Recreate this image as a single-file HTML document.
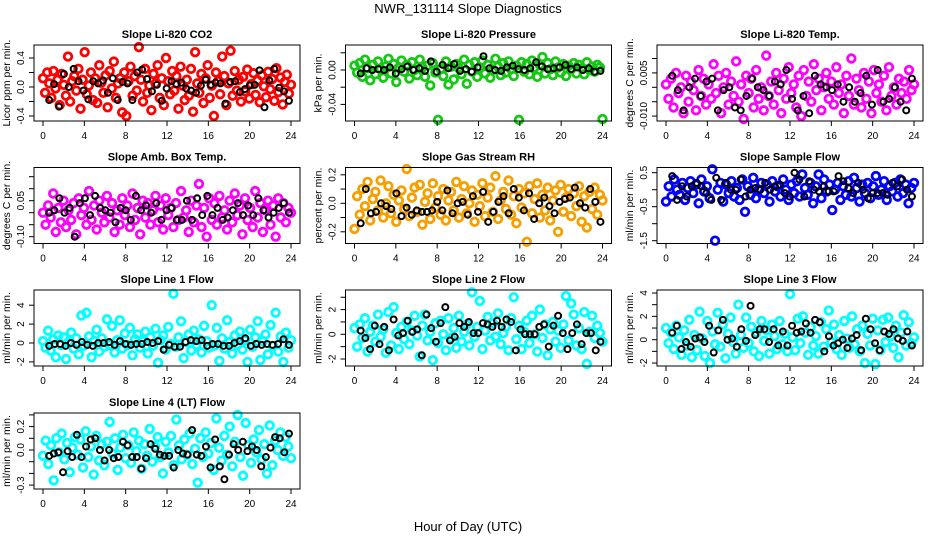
<!DOCTYPE html>
<html><head><meta charset="utf-8"><style>
body{margin:0;background:#fff;}
svg{display:block;font-family:"Liberation Sans",sans-serif;}
</style></head><body>
<svg id="chart" width="936" height="540" viewBox="0 0 936 540" xmlns="http://www.w3.org/2000/svg">
<rect width="936" height="540" fill="#fff"/>
<text x="468" y="13" text-anchor="middle" font-size="13">NWR_131114  Slope Diagnostics</text>
<text x="468" y="531" text-anchor="middle" font-size="13">Hour of Day (UTC)</text>
</svg>
<script>
const xTicks=[0,4,8,12,16,20,24];
const co2Vals=[0.12,-0.08,0.2,0.05,-0.15,0.22,-0.02,0.1,-0.25,0.18,0.03,-0.12,0.42,-0.2,0.08,0.15,-0.05,0.25,-0.3,0.1,0.48,-0.1,0.02,0.2,-0.18,0.12,-0.22,0.3,0.06,-0.08,0.16,-0.28,0.22,-0.02,0.35,-0.15,0.05,0.12,-0.35,0.2,-0.4,0.08,0.28,-0.12,0.15,-0.05,0.55,0.1,-0.2,0.25,-0.08,0.02,-0.32,0.18,0.05,0.3,-0.15,0.12,-0.25,0.4,0.08,-0.1,0.22,-0.05,0.15,-0.3,0.28,0.02,-0.18,0.1,-0.12,0.25,-0.34,0.48,0.05,-0.08,0.18,-0.22,0.12,0.3,-0.15,0.02,-0.4,0.2,0.08,-0.1,0.42,0.15,-0.25,0.05,0.5,-0.12,0.22,-0.05,0.1,-0.2,0.14,-0.06,0.24,-0.16,0.04,0.19,-0.11,0.09,-0.21,0.16,0.01,-0.14,0.21,-0.03,0.11,-0.19,0.26,-0.07,0.13,-0.24,0.07,0.17,-0.09,0.03];
const co2Black=[-0.18,0.04,-0.27,0.18,0.0,0.25,0.08,-0.05,-0.17,0.08,0.05,0.09,-0.08,0.12,-0.18,0.07,0.05,-0.18,0.2,0.24,0.11,-0.06,0.03,-0.19,-0.02,0.08,0.04,0.06,-0.02,-0.05,-0.08,0.02,0.1,0.03,0.06,0.05,-0.23,0.07,0.08,-0.07,-0.03,0.02,0.03,0.23,-0.28,0.09,0.25,-0.01,-0.06,-0.19];
const presVals=[0.005,-0.003,0.008,-0.008,0.012,0.002,-0.012,0.006,-0.005,0.01,0.001,-0.009,0.004,0.013,-0.004,0.007,-0.014,0.003,0.011,-0.002,0.006,-0.01,0.009,0.0,-0.006,0.012,0.003,-0.008,0.005,-0.018,0.008,-0.003,-0.058,0.001,-0.007,0.01,-0.017,0.004,-0.011,0.007,0.002,-0.005,0.012,-0.016,0.006,-0.002,0.009,-0.008,0.003,0.011,-0.004,0.006,-0.009,0.0,0.013,0.004,-0.006,0.008,-0.003,0.01,0.001,-0.007,0.005,-0.058,0.009,-0.002,0.007,-0.005,0.011,0.003,-0.008,0.006,0.015,-0.004,0.008,0.001,-0.006,0.01,0.003,-0.003,0.007,-0.007,0.005,0.001,0.008,-0.004,0.006,0.002,-0.005,0.009,0.0,0.004,-0.002,0.006,0.003,-0.057];
const presBlack=[-0.004,0.002,0.0,0.001,0.0,0.003,-0.004,0.001,0.004,0.0,0.002,-0.001,0.01,-0.002,0.006,0.002,0.007,-0.001,0.001,-0.002,0.003,0.016,0.002,0.0,-0.001,0.003,0.005,0.001,0.0,0.002,0.009,0.004,0.001,0.002,0.003,0.006,0.001,0.003,0.0,0.002,-0.002,-0.001];
const tempVals=[0.001,-0.004,0.003,-0.007,0.005,-0.002,0.0,-0.009,0.004,-0.005,0.002,-0.001,-0.008,0.006,-0.003,0.003,-0.006,0.001,-0.004,0.008,-0.002,0.004,-0.009,0.0,0.005,-0.006,0.002,-0.003,0.009,-0.005,0.001,-0.011,0.004,-0.002,0.003,-0.007,0.006,-0.004,0.0,-0.008,0.011,-0.003,0.002,-0.006,0.005,-0.001,-0.009,0.003,-0.004,0.007,-0.002,0.001,-0.007,0.004,-0.010,0.006,-0.003,0.002,-0.005,0.008,-0.001,0.003,-0.008,0.0,0.005,-0.004,0.002,-0.006,0.007,-0.002,0.001,-0.009,0.004,-0.003,0.01,-0.006,0.003,-0.001,-0.007,0.005,-0.004,0.002,-0.009,0.006,-0.002,0.001,-0.005,0.004,-0.008,0.007,-0.003,0.0,-0.006,0.003,-0.002,0.002,-0.004,0.006,-0.001,0.001];
const tempBlack=[0.004,-0.001,-0.008,0.0,0.003,-0.003,0.002,0.003,-0.008,-0.001,0.0,-0.007,-0.008,-0.003,0.003,0.0,-0.001,-0.003,0.002,0.001,0.006,-0.004,-0.008,-0.003,-0.009,0.004,0.001,0.0,-0.001,0.001,-0.005,0.0,-0.005,-0.002,0.004,-0.006,0.006,-0.005,-0.004,0.0,-0.005,-0.008,0.003];
const ambVals=[0.0,-0.05,0.03,-0.02,0.08,-0.08,0.02,-0.04,0.05,-0.06,0.01,-0.03,0.04,-0.09,0.06,-0.01,0.02,-0.05,0.09,-0.03,0.03,-0.07,0.05,0.0,-0.04,0.07,-0.02,0.04,-0.08,0.01,-0.05,0.06,-0.01,0.03,-0.06,0.08,-0.03,0.02,-0.09,0.05,-0.02,0.04,-0.05,0.01,0.07,-0.04,0.03,-0.07,0.06,-0.01,0.02,-0.06,0.04,-0.03,0.09,-0.02,0.01,-0.08,0.05,-0.04,0.03,0.12,-0.06,0.02,-0.1,0.06,-0.03,0.04,-0.05,0.07,-0.02,0.01,-0.07,0.05,-0.04,0.08,-0.01,0.03,-0.09,0.06,-0.03,0.02,-0.06,0.09,-0.02,0.04,-0.08,0.01,0.05,-0.05,0.03,-0.1,0.06,-0.02,0.04,-0.04,0.02,0.0];
const ambBlack=[0.0,0.01,0.06,0.0,0.02,-0.1,0.04,0.06,-0.01,0.07,0.02,0.01,0.0,-0.04,0.02,0.01,-0.03,0.07,0.01,0.03,0.0,0.04,-0.03,0.01,0.02,-0.03,-0.03,0.05,-0.03,0.06,-0.01,0.07,-0.01,0.02,-0.03,-0.02,0.01,0.04,-0.01,0.03,-0.01,0.06,0.01,-0.02,0.0,0.02,0.04,0.0];
const rhVals=[-0.18,0.05,-0.08,0.1,-0.02,0.15,-0.12,0.03,0.08,-0.05,0.16,-0.1,0.0,0.12,-0.07,0.06,-0.13,0.02,0.09,-0.04,0.24,-0.09,0.04,0.11,-0.06,0.13,-0.15,0.01,0.07,-0.11,0.14,-0.03,0.05,-0.08,0.1,-0.12,0.02,0.08,-0.05,0.15,-0.1,0.03,0.12,-0.07,0.0,0.09,-0.13,0.06,-0.02,0.14,-0.09,0.04,0.11,-0.06,0.19,-0.11,0.02,0.08,-0.04,0.16,-0.08,0.05,-0.14,0.1,-0.03,0.07,-0.27,0.12,-0.07,0.03,0.14,-0.1,0.06,-0.05,0.11,-0.12,0.02,0.09,-0.2,0.13,-0.06,0.04,0.1,-0.09,0.07,-0.02,0.12,-0.13,0.05,-0.17,0.08,-0.04,0.11,-0.08,0.06,0.02];
const rhBlack=[-0.14,0.1,-0.07,-0.06,0.0,-0.02,-0.04,0.07,-0.09,-0.03,-0.08,-0.05,-0.06,-0.06,-0.05,0.01,-0.05,0.09,-0.07,0.0,0.01,-0.08,0.05,-0.06,0.08,-0.13,-0.06,0.01,0.05,-0.07,0.1,0.04,-0.05,0.07,-0.11,0.0,0.04,-0.02,-0.07,0.01,0.03,0.04,0.11,0.0,-0.03,0.1,0.01,-0.13];
const sfVals=[-0.35,0.1,-0.2,0.3,0.0,-0.15,0.2,-0.3,0.05,0.25,-0.1,0.15,-0.4,0.3,-0.05,0.1,-0.25,0.6,-1.5,0.0,0.2,-0.35,0.15,-0.1,0.25,-0.2,0.05,-0.3,0.3,-0.65,0.1,-0.15,0.35,-0.25,0.0,0.2,-0.1,0.15,-0.35,0.25,-0.05,0.1,-0.2,0.3,0.0,-0.3,0.15,-0.1,0.25,-0.2,0.45,0.05,-0.15,0.2,-0.4,0.1,0.45,-0.25,0.3,-0.05,0.15,-0.6,0.0,0.2,-0.3,0.1,-0.15,0.25,-0.2,0.35,0.05,-0.35,0.15,-0.1,0.2,-0.25,0.1,0.4,-0.15,0.0,0.25,-0.3,0.1,-0.05,0.2,-0.2,0.3,-0.1,0.15,-0.4,0.05,0.2];
const sfBlack=[0.4,-0.3,0.1,-0.2,0.1,0.2,0.1,-0.1,-0.3,0.35,-0.3,0.2,0.0,0.0,0.3,-0.2,0.0,0.05,0.0,0.2,0.0,0.1,0.15,-0.1,-0.2,0.5,0.3,-0.2,0.25,0.0,-0.05,0.1,-0.05,-0.05,0.4,0.25,0.05,-0.1,0.2,0.0,-0.25,-0.1,-0.1,-0.1,-0.15,0.2,0.1,0.3,0.0,-0.2];
const l1Vals=[0.2,-0.5,1.3,-0.8,0.4,-1.5,0.8,-0.2,0.6,-1.7,0.1,1.1,-0.6,0.5,-1.2,2.9,-0.3,3.2,0.7,-1.5,0.2,1.4,-0.9,0.5,-0.4,2.5,-0.2,1.8,-1.0,0.3,2.4,-0.6,1.0,-0.2,1.6,-1.3,0.4,0.9,-0.5,0.2,1.2,-1.1,0.6,-0.3,1.5,-2.1,0.3,0.8,-0.7,1.7,-0.1,5.2,-0.4,0.6,2.3,-1.6,0.1,0.9,-0.8,1.3,-0.2,0.4,-1.0,1.8,0.2,-0.5,4.0,-0.3,1.6,-1.9,0.5,-0.6,2.4,0.1,-1.1,0.8,-0.2,1.2,-0.7,0.3,-2.0,1.4,-0.4,0.6,2.3,-1.8,0.2,0.9,-1.2,1.9,-0.3,3.2,-0.9,0.7,-2.0,1.1,-0.5,0.3];
const l1Black=[-0.3,-0.1,-0.1,-0.3,0.0,-0.2,0.1,-0.2,-0.3,0.0,0.0,0.1,-0.2,0.2,-0.1,-0.2,-0.1,-0.1,0.1,0.0,0.2,-0.7,-0.2,-0.4,-0.4,0.1,0.3,0.2,0.3,-0.3,-0.1,-0.1,-0.3,-0.3,0.0,0.2,0.5,-0.3,-0.1,-0.2,-0.1,-0.2,-0.1,0.4,-0.2];
const l2Vals=[0.5,-1.0,0.8,-0.3,1.3,-1.4,0.2,0.7,-0.6,1.6,-0.2,0.4,-1.5,1.8,-0.9,2.2,0.1,-1.2,0.6,-0.4,1.0,-0.8,0.3,1.5,-0.1,-1.8,0.7,1.6,-0.5,0.2,-2.1,0.9,-0.7,1.1,0.0,-1.3,1.3,-0.3,0.5,-1.1,1.5,-0.6,0.2,0.8,-0.9,3.4,-0.2,0.6,2.7,-1.2,0.3,1.4,-0.5,0.9,-0.2,1.7,-0.8,0.1,0.6,-1.3,1.3,3.0,-0.4,0.7,-1.2,0.2,1.1,-0.7,1.5,0.0,-1.4,2.0,-0.3,0.8,-1.7,0.4,1.0,-0.6,0.3,-1.1,0.8,3.1,-0.5,2.5,1.6,-0.9,0.5,-1.2,1.8,-2.4,0.2,1.5,-0.3,0.7,0.1,-0.6];
const l2Black=[0.3,-0.3,-1.2,0.7,-0.8,0.6,-1.3,1.2,-0.1,0.1,1.1,0.2,0.4,-1.7,1.6,0.5,-0.6,0.9,2.2,-0.5,-0.2,0.9,0.6,1.0,0.1,0.1,0.9,0.8,0.6,1.1,0.6,1.2,1.0,-1.3,0.4,0.0,0.0,0.0,0.6,0.8,-1.0,0.7,1.5,0.1,-1.2,0.1,0.8,-0.8,0.1,0.1,-1.3,-0.6];
const l3Vals=[1.0,-0.3,0.6,-0.8,1.2,0.2,-1.3,0.8,-0.5,1.7,-1.5,0.4,-0.9,2.4,0.1,-1.4,1.6,-2.0,0.7,-0.4,2.3,-0.6,1.3,-1.6,0.5,1.9,-0.2,-1.2,3.0,0.4,-0.7,1.9,-0.3,1.1,-1.0,0.6,-1.4,1.6,-0.1,0.8,-1.2,1.3,0.3,-0.8,1.6,-0.4,0.5,-1.0,3.9,0.2,-0.9,1.8,-0.3,2.0,0.6,-1.3,1.1,-0.5,0.3,-1.2,1.5,-0.6,0.9,2.5,-0.2,1.3,-0.8,0.4,-1.3,1.6,0.1,-0.7,2.0,-0.4,0.9,-1.0,1.2,-2.0,0.5,-0.5,1.8,-2.1,0.8,-0.9,1.7,-0.2,1.9,0.3,-0.7,1.2,-1.5,0.6,2.1,-0.5,1.5,-0.3,0.2];
const l3Black=[0.6,1.2,-0.8,-0.2,-0.6,0.1,0.2,-0.2,1.2,-1.1,0.8,1.7,0.0,0.1,-0.6,0.9,-0.1,2.9,0.4,0.9,0.9,-0.2,0.9,-0.5,0.7,-0.5,1.2,0.6,0.7,1.4,0.6,1.7,1.5,-1.0,0.3,-0.5,-0.3,0.0,-0.7,0.1,0.4,-0.9,1.8,0.9,-0.3,-0.9,0.7,0.5,0.9,0.1,-0.1,0.7,-0.5];
const l4Vals=[-0.05,0.08,-0.12,0.04,-0.26,0.1,-0.02,0.14,-0.08,0.06,-0.19,0.02,0.11,-0.04,0.09,-0.15,0.16,-0.06,0.03,-0.21,0.12,-0.09,0.05,-0.13,0.07,0.24,-0.03,0.1,-0.17,0.02,0.13,-0.07,0.04,-0.11,0.15,-0.01,0.08,-0.16,0.05,-0.05,0.18,-0.1,0.03,0.11,-0.06,-0.2,0.07,-0.02,0.12,-0.13,0.26,0.04,-0.08,0.09,-0.04,0.14,-0.12,0.01,-0.28,0.1,-0.06,0.15,-0.03,0.06,-0.17,0.27,0.02,-0.09,0.12,-0.04,0.2,-0.14,0.07,0.3,-0.06,-0.22,0.23,0.04,-0.11,0.09,-0.02,0.17,-0.08,0.05,-0.2,0.21,-0.13,0.08,0.0,0.15,-0.05,0.11,0.03,-0.07];
const l4Black=[-0.05,-0.03,-0.02,-0.19,-0.01,-0.06,0.13,-0.06,0.03,0.09,0.1,0.0,-0.09,0.0,-0.07,-0.06,0.07,0.04,-0.06,-0.06,-0.16,-0.07,0.05,0.01,-0.04,-0.05,-0.05,-0.15,0.0,-0.03,-0.04,0.17,-0.04,-0.05,0.03,-0.15,0.09,-0.14,-0.25,-0.04,0.05,0.0,0.07,-0.01,0.03,0.0,-0.14,-0.06,0.02,0.11,0.1,-0.02,0.14];

const NS='http://www.w3.org/2000/svg';
const svg=document.getElementById('chart');
function mk(tag,attrs,parent){const e=document.createElementNS(NS,tag);for(const k in attrs)e.setAttribute(k,attrs[k]);(parent||svg).appendChild(e);return e;}
const colX=[34,345.5,657];const rowY=[45,167.5,290,413];const BW=266,BH=76;
const panels=[
 {id:'co2',t:'Slope Li-820 CO2',yl:'Licor ppm per min.',c:0,r:0,zero:87,ppu:72.5,ticks:[-0.4,-0.2,0,0.2,0.4],labs:['-0.4','0.0','0.4'],labv:[-0.4,0,0.4],col:'#ff0000',main:co2Vals,blk:co2Black},
 {id:'pressure',t:'Slope Li-820 Pressure',yl:'kPa per min.',c:1,r:0,zero:70,ppu:860,ticks:[-0.04,-0.02,0,0.02],labs:['-0.04','0.00'],labv:[-0.04,0],col:'#14c814',main:presVals,blk:presBlack},
 {id:'temp',t:'Slope Li-820 Temp.',yl:'degrees C per min.',c:2,r:0,zero:87.3,ppu:2880,ticks:[-0.01,-0.005,0,0.005,0.01],labs:['-0.010','0.005'],labv:[-0.01,0.005],col:'#ff00ff',main:tempVals,blk:tempBlack},
 {id:'amb',t:'Slope Amb. Box Temp.',yl:'degrees C per min.',c:0,r:1,zero:212.7,ppu:240,ticks:[-0.1,-0.05,0,0.05,0.1,0.15],labs:['-0.10','0.05'],labv:[-0.1,0.05],col:'#ff00ff',main:ambVals,blk:ambBlack},
 {id:'rh',t:'Slope Gas Stream RH',yl:'percent per min.',c:1,r:1,zero:203.3,ppu:142.5,ticks:[-0.2,-0.1,0,0.1,0.2],labs:['-0.2','0.0','0.2'],labv:[-0.2,0,0.2],col:'#f5a000',main:rhVals,blk:rhBlack},
 {id:'sample',t:'Slope Sample Flow',yl:'ml/min per min.',c:2,r:1,zero:189.7,ppu:34,ticks:[-1.5,-1,-0.5,0,0.5],labs:['-1.5','-0.5','0.5'],labv:[-1.5,-0.5,0.5],col:'#0000ff',main:sfVals,blk:sfBlack},
 {id:'line1',t:'Slope Line 1 Flow',yl:'ml/min per min.',c:0,r:2,zero:343,ppu:9.45,ticks:[-2,0,2,4],labs:['-2','0','2','4'],labv:[-2,0,2,4],col:'#00ffff',main:l1Vals,blk:l1Black},
 {id:'line2',t:'Slope Line 2 Flow',yl:'ml/min per min.',c:1,r:2,zero:334.3,ppu:12.35,ticks:[-2,-1,0,1,2,3],labs:['-2','0','2'],labv:[-2,0,2],col:'#00ffff',main:l2Vals,blk:l2Black},
 {id:'line3',t:'Slope Line 3 Flow',yl:'ml/min per min.',c:2,r:2,zero:339.7,ppu:11.67,ticks:[-2,-1,0,1,2,3,4],labs:['-2','0','2','4'],labv:[-2,0,2,4],col:'#00ffff',main:l3Vals,blk:l3Black},
 {id:'line4',t:'Slope Line 4 (LT) Flow',yl:'ml/min per min.',c:0,r:3,zero:450,ppu:117,ticks:[-0.3,-0.2,-0.1,0,0.1,0.2,0.3],labs:['-0.3','0.0','0.2'],labv:[-0.3,0,0.2],col:'#00ffff',main:l4Vals,blk:l4Black}
];
panels.forEach(p=>{
 const L=colX[p.c],T=rowY[p.r];
 const g=mk('g',{});
 
 
 const xs=h=>L+9+h*(BW-18)/24;
 const ys=v=>p.zero-v*p.ppu;
 const ti=mk('text',{x:L+BW/2,y:T-7,'text-anchor':'middle','font-size':11,'font-weight':'bold'},g);
 ti.textContent=p.t;
 
 
 const yt=mk('text',{transform:`translate(${L-24},${T+BH/2}) rotate(-90)`,'text-anchor':'middle','font-size':10.5},g);
 yt.textContent=p.yl;
 
 
 const pts=mk('g',{},g);
 
 
 const n=p.main.length;
 p.main.forEach((v,i)=>{
  const c=mk('circle',{cx:xs(i*24/(n-1)),cy:ys(v),r:3.8,fill:'none',stroke:p.col,'stroke-width':2.8},pts);
  
  
 });
 const m=p.blk.length;
 p.blk.forEach((v,i)=>{
  const c=mk('circle',{cx:xs(0.6+i*23.2/(m-1)),cy:ys(v),r:3,fill:'none',stroke:'#000','stroke-width':2},pts);
  
  
 });
 const box=mk('rect',{x:L,y:T,width:BW,height:BH,fill:'none',stroke:'#000','stroke-width':1},g);
 
 
 xTicks.forEach(h=>{
  mk('line',{x1:xs(h),x2:xs(h),y1:T+BH,y2:T+BH+5,stroke:'#000'},g);
  const t=mk('text',{x:xs(h),y:T+BH+18,'text-anchor':'middle','font-size':10},g);
  t.textContent=h;
  
  
 });
 p.ticks.forEach(v=>{mk('line',{x1:L-5,x2:L,y1:ys(v),y2:ys(v),stroke:'#000'},g);});
 p.labv.forEach((v,i)=>{
  const t=mk('text',{transform:`translate(${L-10},${ys(v)}) rotate(-90)`,'text-anchor':'middle','font-size':10},g);
  t.textContent=p.labs[i];
  
  
 });
});
</script>
</body></html>
